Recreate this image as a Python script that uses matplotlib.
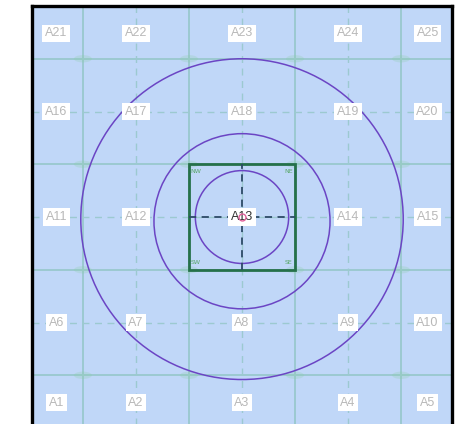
import numpy as np
import matplotlib.pyplot as plt
from matplotlib.patches import Circle, Rectangle, Ellipse

# cell labels, row by row from the bottom
label_x = [-1.75, -1.0, 0.0, 1.0, 1.75]
label_y = [-1.76, -1.0, 0.0, 1.0, 1.74]
cell_names = [f"A{i}" for i in range(1, 26)]

# grid lines (cell edges and cell centres)
edges = [-1.5, -0.5, 0.5, 1.5]
centres = [-1.0, 0.0, 1.0]

# range rings: (centre x, centre y, radius)
rings_x = [0.0, 0.0, 0.0]
rings_y = [-0.02, -0.04, 0.0]
rings_r = [1.52, 0.83, 0.44]

# highlighted cell
home_x, home_y, home_size = -0.5, -0.5, 1.0
corner_names = ["NW", "NE", "SW", "SE"]
corner_x = [-0.44, 0.44, -0.44, 0.44]
corner_y = [0.43, 0.43, -0.43, -0.43]

W, H = 455, 424
fig = plt.figure(figsize=(W / 100, H / 100), dpi=100)
left, right, top, bottom = 32, 452, 6, 427
ax = fig.add_axes([left / W, (H - bottom) / H, (right - left) / W, (bottom - top) / H])
ax.set_xlim(-1.98, 1.98)
ax.set_ylim(-1.99, 2.0)
ax.set_facecolor("#c0d7f8")
ax.set_xticks([])
ax.set_yticks([])
for s in ax.spines.values():
    s.set_linewidth(2.4)
    s.set_color("black")

grid_col = "#9cc9d0"
for e in edges:
    ax.axvline(e, color=grid_col, lw=1.4, zorder=1)
    ax.axhline(e, color=grid_col, lw=1.4, zorder=1)
for c in centres:
    ax.axvline(c, color=grid_col, lw=1.0, ls=(0, (5, 4)), zorder=1)
    ax.axhline(c, color=grid_col, lw=1.0, ls=(0, (5, 4)), zorder=1)

# faint marks at grid intersections
for gx in edges:
    for gy in edges:
        ax.add_patch(Ellipse((gx, gy), 0.17, 0.07, color="#8ccfa6", alpha=0.25,
                             lw=0, zorder=2))

# range rings
for cx, cy, r in zip(rings_x, rings_y, rings_r):
    ax.add_patch(Circle((cx, cy), r, fill=False, ec="#6b45c4", lw=1.1, zorder=4))

# highlighted cell with crosshair
ax.add_patch(Rectangle((home_x, home_y), home_size, home_size, fill=False,
                       ec="#25704a", lw=2.0, zorder=5))
ax.plot([0, 0], [home_y, home_y + home_size], color="#2c4a66", lw=1.3,
        ls=(0, (4, 3)), zorder=5)
ax.plot([home_x, home_x + home_size], [0, 0], color="#2c4a66", lw=1.3,
        ls=(0, (4, 3)), zorder=5)
for name, cx, cy in zip(corner_names, corner_x, corner_y):
    ax.text(cx, cy, name, fontsize=4.5, color="#5aa86a", ha="center",
            va="center", zorder=6)

# cell labels
k = 0
for ly in label_y:
    for lx in label_x:
        name = cell_names[k]
        k += 1
        centre = name == "A13"
        ax.text(lx, ly, name, fontsize=9, ha="center", va="center",
                family="Liberation Sans",
                color="#333333" if centre else "#b8b8b8", zorder=7,
                bbox=dict(boxstyle="square,pad=0.22", fc="white", ec="none"))

ax.plot([0.0], [0.0], marker="o", ms=5, mfc="none", mec="#e0609a", mew=1.0,
        zorder=8)

fig.savefig("out.png", dpi=100, facecolor="white")
